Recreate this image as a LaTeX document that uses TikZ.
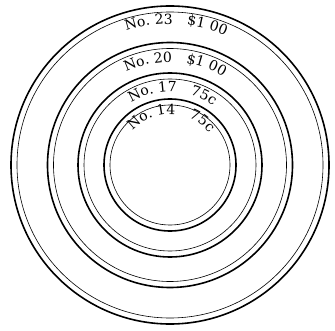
\documentclass[tikz,border=0pt]{standalone}
\usepackage{fontspec}
\setmainfont{DejaVu Serif}
\usepackage{tikz}
\usetikzlibrary{decorations.text}

\begin{document}
\begin{tikzpicture}[x=1pt,y=1pt]
\useasboundingbox (0,0) rectangle (335,330);
\coordinate (c) at (170,165);
\newcommand{\ring}[1]{\draw[line width=1.6pt] (c) circle[radius=#1]; \draw[line width=0.6pt] (c) circle[radius=#1-6];}
\newcommand{\price}[3]{\path[decorate,decoration={text along path,text align=center,text={|\fontsize{14}{16}\selectfont|#3}}] (c) ++(#1+80:#2) arc[start angle=#1+80,end angle=#1-80,radius=#2];}
\ring{159} \ring{122.5} \ring{92} \ring{66}
\price{87.5}{141}{No. 23{\hspace*{14pt}}{\$}1 00}
\price{87}{103}{No. 20{\hspace*{14pt}}{\$}1 00}
\price{88}{73.5}{No. 17{\hspace*{14pt}}75c}
\price{88.5}{50.5}{No. 14{\hspace*{14pt}}75c}
\end{tikzpicture}
\end{document}
